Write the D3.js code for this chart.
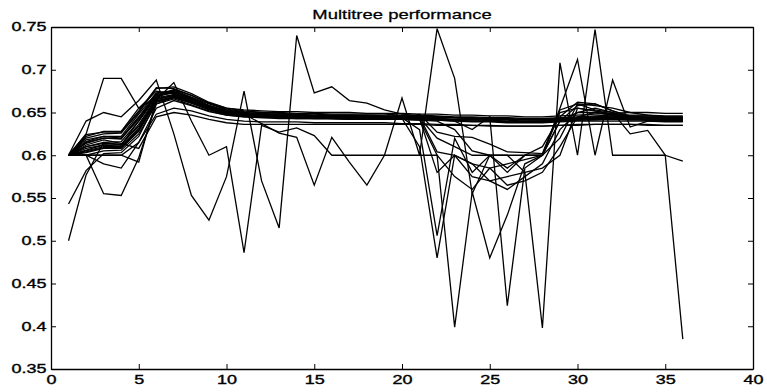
<!DOCTYPE html>
<html>
<head>
<meta charset="utf-8">
<script src="https://cdn.jsdelivr.net/npm/d3@7"></script>
<style>
  body { margin: 0; background: #fff; }
  text { font-family: "Liberation Sans", Arial, sans-serif; fill: #000; }
</style>
</head>
<body>
<svg id="chart" width="767" height="392"></svg>
<script>
// x positions (iteration) shared by every run
const xs = [1,2,3,4,5,6,7,8,9,10,11,12,13,14,15,16,17,18,19,20,21,22,23,24,25,26,27,28,29,30,31,32,33,34,35,36];

const xTicks = [0,5,10,15,20,25,30,35,40];
const xTickLabels = ["0","5","10","15","20","25","30","35","40"];
const yTicks = [0.35,0.4,0.45,0.5,0.55,0.6,0.65,0.7,0.75];
const yTickLabels = ["0.35","0.4","0.45","0.5","0.55","0.6","0.65","0.7","0.75"];
const chartTitle = "Multitree performance";

// smooth runs (main band)
const b1  = [.600,.620,.625,.626,.650,.678,.680,.672,.662,.655,.652,.650,.650,.649,.649,.648,.648,.648,.648,.647,.647,.646,.645,.645,.644,.644,.643,.643,.644,.645,.646,.647,.647,.647,.646,.646];
const b2  = [.600,.615,.620,.620,.645,.672,.676,.668,.660,.653,.650,.649,.648,.648,.647,.647,.647,.646,.646,.646,.645,.645,.644,.643,.643,.642,.642,.642,.643,.644,.645,.645,.645,.645,.644,.644];
const b3  = [.600,.610,.615,.616,.640,.670,.673,.665,.657,.651,.648,.647,.646,.646,.646,.645,.645,.645,.645,.644,.644,.643,.642,.642,.641,.641,.640,.640,.641,.642,.643,.643,.643,.643,.642,.642];
const b4  = [.600,.605,.610,.610,.632,.665,.670,.662,.654,.649,.646,.645,.645,.644,.644,.644,.644,.643,.643,.643,.642,.642,.641,.640,.640,.639,.639,.639,.640,.641,.641,.642,.641,.641,.641,.640];
const b5  = [.600,.600,.605,.606,.625,.660,.666,.659,.652,.647,.645,.644,.643,.643,.643,.643,.642,.642,.642,.642,.641,.641,.640,.639,.639,.638,.638,.638,.639,.640,.640,.640,.640,.640,.639,.639];
const b6  = [.600,.622,.628,.628,.655,.675,.672,.664,.656,.650,.647,.646,.645,.645,.645,.645,.645,.644,.644,.644,.643,.643,.642,.641,.641,.640,.640,.640,.641,.642,.643,.644,.644,.644,.643,.643];
const b7  = [.600,.600,.600,.600,.615,.648,.655,.652,.646,.642,.640,.639,.639,.639,.638,.638,.638,.638,.638,.637,.637,.636,.636,.635,.635,.634,.634,.634,.635,.636,.636,.636,.636,.636,.635,.635];
const b8  = [.600,.612,.618,.614,.608,.645,.650,.647,.642,.638,.636,.636,.636,.636,.636,.636,.636,.636,.636,.636,.636,.635,.635,.635,.634,.634,.634,.634,.635,.635,.636,.636,.636,.635,.635,.635];
const b9  = [.500,.577,.615,.612,.640,.668,.674,.667,.658,.652,.649,.648,.647,.647,.646,.646,.646,.646,.645,.645,.645,.644,.644,.643,.642,.642,.641,.641,.642,.643,.644,.644,.644,.644,.643,.643];
const b10 = [.543,.582,.602,.603,.622,.662,.668,.661,.653,.648,.646,.645,.644,.644,.644,.643,.643,.643,.643,.642,.642,.642,.641,.640,.640,.639,.639,.639,.640,.641,.642,.642,.642,.642,.641,.641];
const b11 = [.600,.624,.627,.627,.652,.679,.678,.670,.661,.655,.653,.652,.651,.651,.650,.650,.650,.649,.649,.649,.648,.648,.647,.647,.646,.646,.645,.645,.646,.647,.648,.649,.650,.650,.649,.649];
const e1  = [.600,.625,.690,.690,.655,.668,.677,.670,.661,.654,.651,.650,.649,.648,.648,.647,.647,.647,.646,.646,.646,.645,.644,.644,.643,.643,.642,.642,.643,.644,.645,.646,.646,.646,.645,.645];

// runs that sag between 22 and 28
const e3  = [.600,.600,.555,.553,.597,.660,.668,.662,.655,.650,.647,.646,.645,.645,.644,.644,.644,.644,.643,.643,.648,.627,.622,.621,.613,.604,.603,.602,.653,.660,.658,.655,.650,.647,.645,.645];
const e4  = [.600,.600,.590,.585,.615,.655,.664,.658,.651,.647,.645,.644,.644,.643,.643,.643,.642,.642,.642,.642,.645,.604,.600,.590,.585,.590,.595,.600,.640,.658,.660,.652,.645,.643,.642,.641];
const d3s = [.600,.618,.622,.622,.648,.673,.675,.666,.657,.651,.649,.648,.647,.647,.646,.646,.646,.645,.645,.645,.643,.580,.600,.575,.570,.575,.580,.585,.600,.655,.652,.648,.644,.642,.641,.641];
const d4  = [.600,.608,.612,.612,.636,.667,.671,.664,.656,.650,.647,.646,.645,.645,.645,.644,.644,.644,.644,.643,.642,.600,.575,.560,.585,.565,.570,.580,.610,.645,.650,.648,.643,.641,.640,.640];
const z1  = [.600,.603,.608,.608,.628,.663,.669,.662,.655,.649,.646,.645,.644,.644,.644,.644,.643,.643,.643,.643,.610,.480,.600,.590,.570,.560,.575,.590,.630,.650,.655,.650,.645,.642,.641,.640];
const z2  = [.600,.616,.622,.620,.642,.671,.674,.667,.658,.652,.649,.648,.647,.647,.646,.646,.646,.645,.645,.644,.630,.506,.620,.580,.600,.585,.600,.610,.645,.662,.660,.652,.646,.644,.643,.642];

// erratic runs
const p   = [.600,.640,.650,.645,.664,.688,.625,.553,.524,.575,.675,.570,.515,.740,.673,.680,.664,.661,.653,.648,.646,.645,.644,.643,.643,.642,.642,.641,.642,.643,.644,.645,.645,.645,.644,.644];
const q   = [.600,.600,.600,.600,.592,.665,.685,.640,.600,.610,.486,.635,.627,.632,.623,.600,.600,.600,.600,.600,.600,.600,.399,.557,.480,.530,.590,.600,.650,.655,.652,.648,.645,.643,.642,.642];
const r   = [.600,.606,.612,.610,.630,.664,.668,.662,.655,.650,.648,.637,.626,.621,.565,.621,.592,.565,.600,.667,.600,.748,.690,.555,.600,.580,.600,.600,.620,.660,.653,.650,.625,.629,.600,.593];
const v   = [.600,.610,.614,.613,.634,.666,.670,.663,.655,.649,.647,.646,.645,.645,.644,.644,.644,.643,.643,.643,.642,.641,.640,.630,.645,.424,.585,.600,.640,.650,.650,.647,.643,.641,.640,.640];
const w   = [.600,.604,.609,.609,.629,.662,.667,.661,.654,.648,.646,.645,.644,.644,.643,.643,.643,.642,.642,.642,.641,.640,.630,.605,.600,.600,.580,.398,.708,.600,.747,.600,.600,.600,.600,.385];
const yy  = [.600,.614,.620,.619,.644,.670,.673,.666,.658,.652,.649,.648,.647,.646,.646,.646,.645,.645,.645,.644,.644,.620,.610,.600,.600,.600,.600,.600,.655,.712,.600,.688,.633,.640,.640,.640];

const runs = [b1,b2,b3,b4,b5,b6,b7,b8,b9,b10,b11,e1,e3,e4,d3s,d4,z1,z2,p,q,r,v,w,yy];

const svg = d3.select("#chart");
const W = 767, H = 392;
const margin = {top: 27, right: 14, bottom: 23, left: 51};

const x = d3.scaleLinear().domain([0, 40]).range([margin.left, W - margin.right]);
const y = d3.scaleLinear().domain([0.35, 0.75]).range([H - margin.bottom, margin.top]);

const line = d3.line()
    .x((d, i) => x(xs[i]))
    .y(d => y(d));

svg.append("g")
    .attr("fill", "none")
    .attr("stroke", "#000")
    .attr("stroke-width", 1.3)
    .attr("stroke-linejoin", "miter")
  .selectAll("path")
  .data(runs)
  .join("path")
    .attr("d", line);

// matlab style box with inward ticks on all four sides
const stretch = "scale(1.5,1)";

const gBottom = svg.append("g")
    .attr("transform", `translate(0,${y(0.35)})`)
    .call(d3.axisBottom(x).tickValues(xTicks).tickSize(-5).tickSizeOuter(0).tickPadding(6)
        .tickFormat((d, i) => xTickLabels[i]));

const gLeft = svg.append("g")
    .attr("transform", `translate(${x(0)},0)`)
    .call(d3.axisLeft(y).tickValues(yTicks).tickSize(-5).tickSizeOuter(0).tickPadding(3)
        .tickFormat((d, i) => yTickLabels[i]));

const gTop = svg.append("g")
    .attr("transform", `translate(0,${y(0.75)})`)
    .call(d3.axisTop(x).tickValues(xTicks).tickSize(-5).tickSizeOuter(0).tickFormat(""));

const gRight = svg.append("g")
    .attr("transform", `translate(${x(40)},0)`)
    .call(d3.axisRight(y).tickValues(yTicks).tickSize(-5).tickSizeOuter(0).tickFormat(""));

[gBottom, gLeft, gTop, gRight].forEach(g => {
  g.attr("font-family", null);
  g.selectAll("path.domain").attr("stroke", "#000").attr("stroke-width", 1.3);
  g.selectAll(".tick line").attr("stroke", "#000").attr("stroke-width", 1);
  g.selectAll(".tick text")
      .attr("transform", stretch)
      .style("font-size", "12px")
      .style("fill", "#000")
      .style("stroke", "#000")
      .style("stroke-width", 0.35);
});

svg.append("text")
    .attr("transform", `translate(${(x(0) + x(40)) / 2},18.5) scale(1.42,1)`)
    .attr("text-anchor", "middle")
    .style("font-size", "13px")
    .style("stroke", "#000")
    .style("stroke-width", 0.25)
    .text(chartTitle);
</script>
</body>
</html>
